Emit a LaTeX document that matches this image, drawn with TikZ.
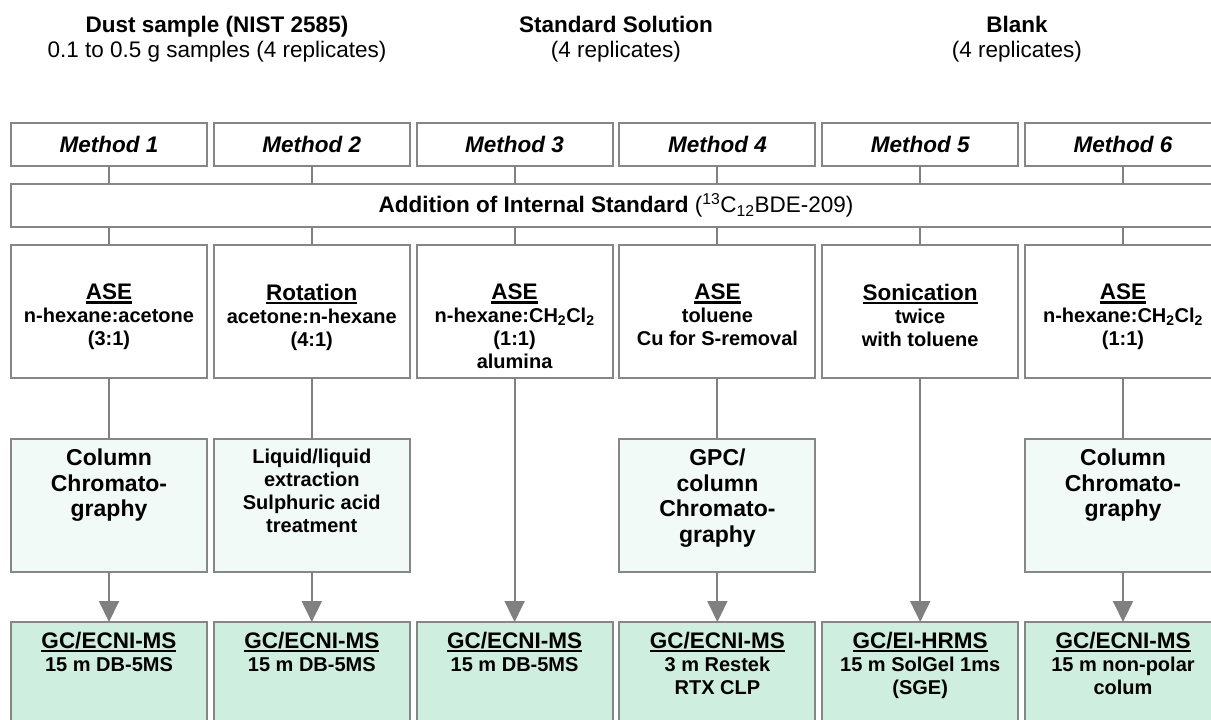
\documentclass[tikz,border=0pt]{standalone}
\usepackage{fontspec}
\setmainfont{Liberation Sans}
\usetikzlibrary{arrows.meta}
\definecolor{bordergray}{HTML}{868686}
\definecolor{linegray}{HTML}{808080}
\definecolor{prepfill}{HTML}{F2FAF7}
\definecolor{msfill}{HTML}{CEEFDF}
\newcommand\fbig{\fontsize{22.5}{25}\selectfont}
\newcommand\fsmall{\fontsize{20}{23}\selectfont}
\newcommand\fmid{\fontsize{23}{25.5}\selectfont}
\newsavebox\hdbox
\newcommand\hd[1]{\sbox\hdbox{#1}\rlap{\vrule height -1.5pt depth 4pt width \wd\hdbox}\usebox\hdbox}
\begin{document}
\begin{tikzpicture}[x=1pt,y=-1pt,
  every node/.style={inner sep=0pt, outer sep=0pt},
  boxframe/.style={draw=bordergray, line width=2pt, minimum width=196pt},
  methodbox/.style={boxframe, fill=white, minimum height=43pt, font=\fbig\bfseries\itshape},
  isbox/.style={boxframe, fill=white, minimum width=1210pt, minimum height=43pt, font=\fbig},
  extbox/.style={boxframe, fill=white, minimum height=133pt},
  prepbox/.style={boxframe, fill=prepfill, minimum height=133pt},
  msbox/.style={boxframe, fill=msfill, minimum height=138pt},
  conn/.style={draw=linegray, line width=2pt},
  arr/.style={conn, -{Triangle[width=20pt,length=21pt]}},
  txt/.style={align=center, anchor=north, font=\fsmall\bfseries},
  txtmid/.style={align=center, anchor=north, font=\fmid\bfseries},
  hdrb/.style={anchor=base, font=\fbig\bfseries},
  hdrr/.style={anchor=base, font=\fbig},
]
\useasboundingbox (0,0) rectangle (1211,720);
\clip (0,0) rectangle (1211,720);

% headers
\node[hdrb] (h1a) at (217,32) {Dust sample (NIST 2585)};
\node[hdrr] (h1b) at (217,57) {0.1 to 0.5 g samples (4 replicates)};
\node[hdrb] (h2a) at (616,32) {Standard Solution};
\node[hdrr] (h2b) at (616,57) {(4 replicates)};
\node[hdrb] (h3a) at (1017,32) {Blank};
\node[hdrr] (h3b) at (1017,57) {(4 replicates)};

% method boxes
\foreach \i/\cx in {1/109,2/311.8,3/514.6,4/717.4,5/920.2,6/1123}{
  \node[methodbox] (m\i) at (\cx,144.5) {Method \i};
}
% internal standard
\node[isbox] (is) at (616,205.5) {\textbf{Addition of Internal Standard} (\textsuperscript{13}C\textsubscript{12}BDE-209)};

% extraction boxes
\foreach \i/\cx in {1/109,2/311.8,3/514.6,4/717.4,5/920.2,6/1123}{
  \node[extbox] (e\i) at (\cx,311.5) {};
}
\node[txt] (te1) at (e1.center |- 0,284) {{\fbig\hd{ASE}}\\n-hexane:acetone\\(3:1)};
\node[txt] (te2) at (e2.center |- 0,284) {{\fbig\hd{Rotation}}\\acetone:n-hexane\\(4:1)};
\node[txt] (te3) at (e3.center |- 0,284) {{\fbig\hd{ASE}}\\n-hexane:CH\textsubscript{2}Cl\textsubscript{2}\\(1:1)\\alumina};
\node[txt] (te4) at (e4.center |- 0,284) {{\fbig\hd{ASE}}\\toluene\\Cu for S-removal};
\node[txt] (te5) at (e5.center |- 0,284) {{\fbig\hd{Sonication}}\\twice\\with toluene};
\node[txt] (te6) at (e6.center |- 0,284) {{\fbig\hd{ASE}}\\n-hexane:CH\textsubscript{2}Cl\textsubscript{2}\\(1:1)};

% clean-up boxes
\foreach \i/\cx in {1/109,2/311.8,4/717.4,6/1123}{
  \node[prepbox] (p\i) at (\cx,505.5) {};
}
\node[txtmid] (tp1) at (p1.center |- 0,449) {Column\\Chromato-\\graphy};
\node[txt] (tp2) at (p2.center |- 0,449) {Liquid/liquid\\extraction\\Sulphuric acid\\treatment};
\node[txtmid] (tp4) at (p4.center |- 0,449) {GPC/\\column\\Chromato-\\graphy};
\node[txtmid] (tp6) at (p6.center |- 0,449) {Column\\Chromato-\\graphy};

% MS boxes
\foreach \i/\cx in {1/109,2/311.8,3/514.6,4/717.4,5/920.2,6/1123}{
  \node[msbox] (g\i) at (\cx,691) {};
}
\node[txt] (tg1) at (g1.center |- 0,632) {{\fbig\hd{GC/ECNI-MS}}\\15 m DB-5MS};
\node[txt] (tg2) at (g2.center |- 0,632) {{\fbig\hd{GC/ECNI-MS}}\\15 m DB-5MS};
\node[txt] (tg3) at (g3.center |- 0,632) {{\fbig\hd{GC/ECNI-MS}}\\15 m DB-5MS};
\node[txt] (tg4) at (g4.center |- 0,632) {{\fbig\hd{GC/ECNI-MS}}\\3 m Restek\\RTX CLP};
\node[txt] (tg5) at (g5.center |- 0,632) {{\fbig\hd{GC/EI-HRMS}}\\15 m SolGel 1ms\\(SGE)};
\node[txt] (tg6) at (g6.center |- 0,632) {{\fbig\hd{GC/ECNI-MS}}\\15 m non-polar\\colum};

% connectors
\foreach \i in {1,...,6}{
  \draw[conn] (m\i.south) -- (m\i.south |- is.north);
  \draw[conn] (e\i.north |- is.south) -- (e\i.north);
}
\foreach \i in {1,2,4,6}{
  \draw[conn] (e\i.south) -- (p\i.north);
  \draw[arr] (p\i.south) -- (g\i.north);
}
\foreach \i in {3,5}{
  \draw[arr] (e\i.south) -- (g\i.north);
}
\end{tikzpicture}
\end{document}
